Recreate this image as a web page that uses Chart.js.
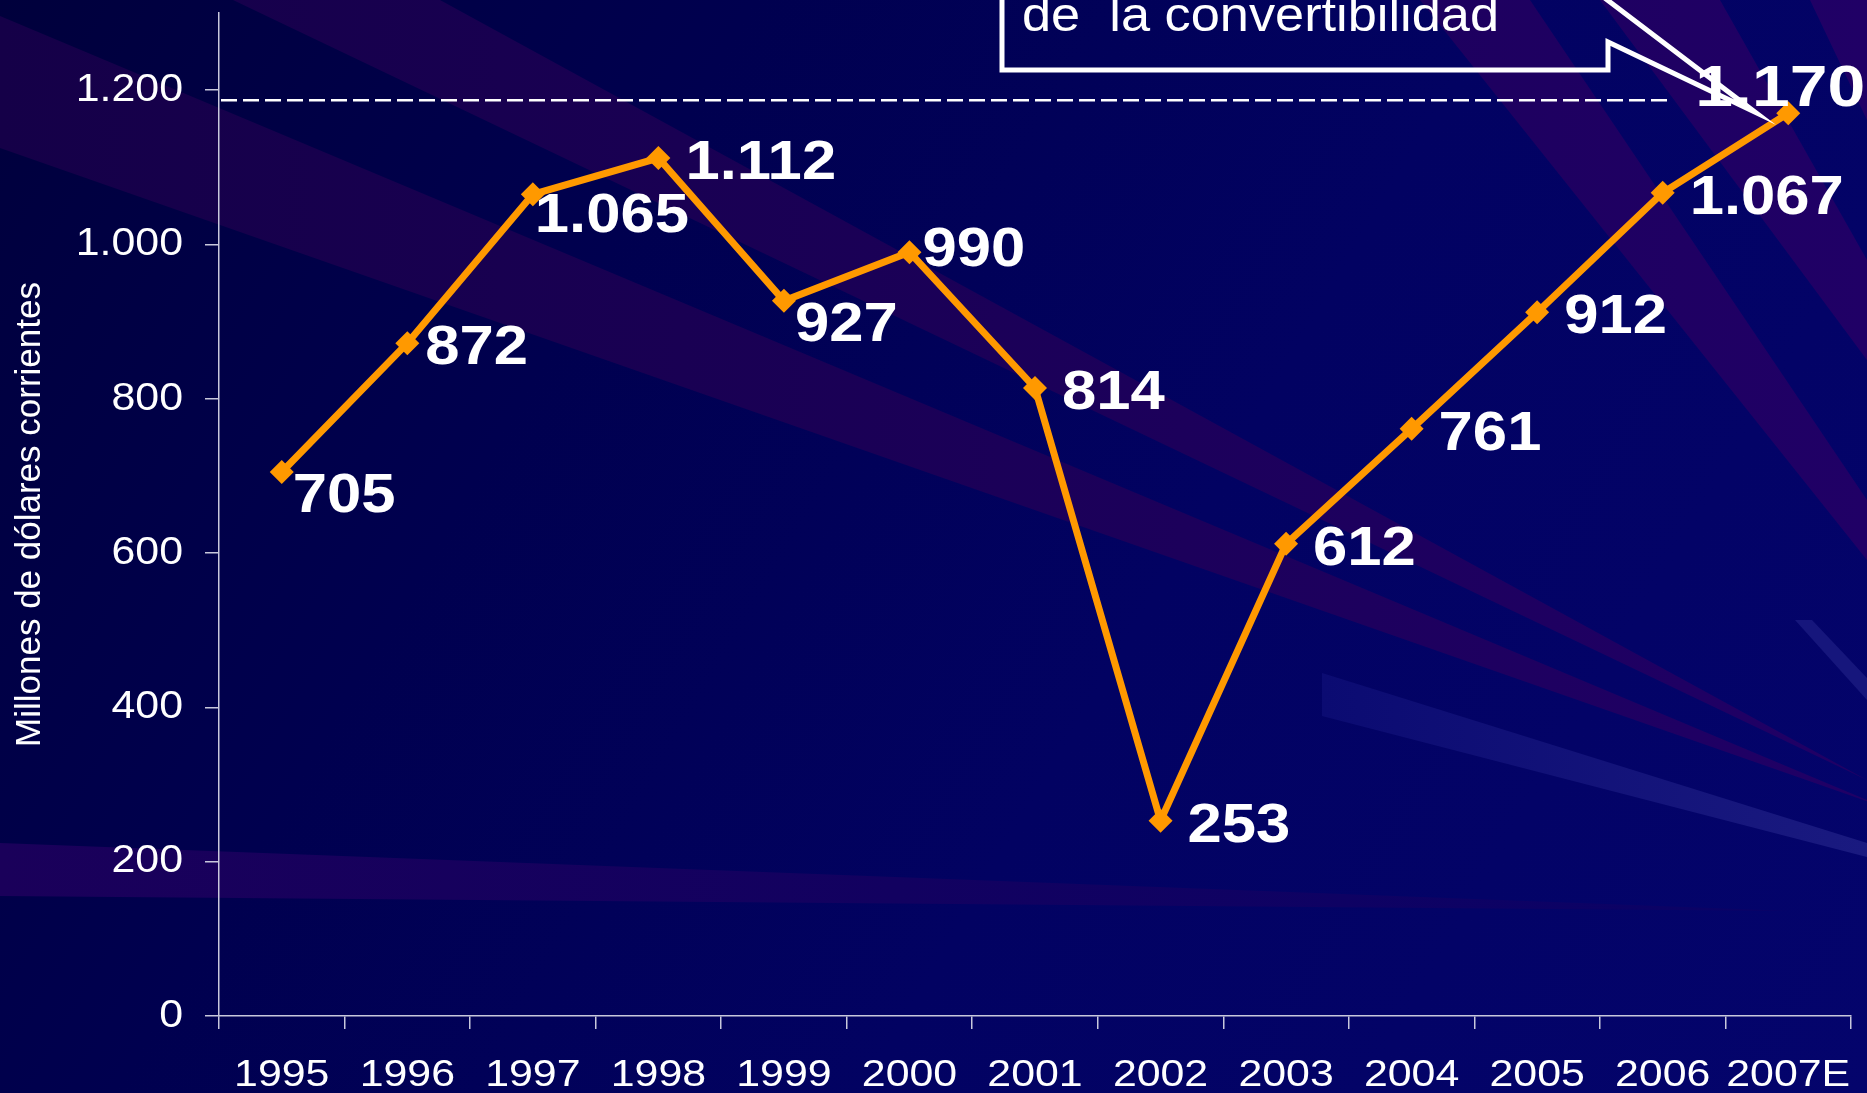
<!DOCTYPE html>
<html><head><meta charset="utf-8">
<script src="https://cdn.jsdelivr.net/npm/chart.js@4.4.1/dist/chart.umd.min.js"></script>
<style>html,body{margin:0;padding:0;background:#01015c;overflow:hidden}#wrap{width:1867px;height:1093px}</style>
</head><body><div id="wrap"><canvas id="c" width="1867" height="1093"></canvas></div>
<script>
// ---- data ----
const categories = ['1995','1996','1997','1998','1999','2000','2001','2002','2003','2004','2005','2006','2007E'];
const values = [705, 872, 1065, 1112, 927, 990, 814, 253, 612, 761, 912, 1067, 1170];
const valueLabels = ['705','872','1.065','1.112','927','990','814','253','612','761','912','1.067','1.170'];
const yTickLabels = ['0','200','400','600','800','1.000','1.200'];
const convertibilityMax = 1187;
const calloutText = 'de  la convertibilidad';
const yTitle = 'Millones de dólares corrientes';
// label placement keywords (styling, not data)
const labelPlacement = ['belowRight','rightNear','belowNear','right','belowRight','upRight','right','right','right','right','right','right','above'];

const FONT = "'Liberation Sans', Arial, sans-serif";

function poly(ctx, pts, fill) {
  ctx.beginPath();
  ctx.moveTo(pts[0][0], pts[0][1]);
  for (let i = 1; i < pts.length; i++) ctx.lineTo(pts[i][0], pts[i][1]);
  ctx.closePath();
  ctx.fillStyle = fill;
  ctx.fill();
}

const bgPlugin = {
  id: 'bg',
  beforeDraw(chart) {
    const ctx = chart.ctx, W = chart.width, H = chart.height;
    ctx.save();
    const g = ctx.createLinearGradient(0, 0, W, H);
    g.addColorStop(0, '#00003c');
    g.addColorStop(0.3, '#00004f');
    g.addColorStop(0.6, '#020262');
    g.addColorStop(1, '#04046c');
    ctx.fillStyle = g;
    ctx.fillRect(0, 0, W, H);
    const pg = ctx.createLinearGradient(0, 0, W, 0);
    pg.addColorStop(0, '#150048');
    pg.addColorStop(1, '#200066');
    poly(ctx, [[0,16],[0,148],[1886,808]], pg);
    poly(ctx, [[233,0],[440,0],[1867,780]], pg);
    poly(ctx, [[1420,0],[1530,0],[1867,500],[1867,560]], pg);
    poly(ctx, [[1600,0],[1720,0],[1867,260],[1867,360]], pg);
    poly(ctx, [[1810,0],[1867,0],[1867,120]], pg);
    const bg2 = ctx.createLinearGradient(0, 0, 1790, 0);
    bg2.addColorStop(0, '#1a005a');
    bg2.addColorStop(1, '#0a0266');
    poly(ctx, [[0,843],[0,896],[1790,911]], bg2);
    const lb = ctx.createLinearGradient(1322, 0, W, 0);
    lb.addColorStop(0, '#0b0b72');
    lb.addColorStop(1, '#1a1a80');
    poly(ctx, [[1322,673],[1322,716],[1867,857],[1867,843]], lb);
    poly(ctx, [[1795,620],[1812,620],[1867,678],[1867,700]], '#16167c');
    ctx.restore();
  },
  beforeDatasetsDraw(chart) {
    const ctx = chart.ctx, y = chart.scales.y, x = chart.scales.x;
    const py = y.getPixelForValue(convertibilityMax);
    ctx.save();
    ctx.strokeStyle = '#ffffff';
    ctx.lineWidth = 2.5;
    ctx.setLineDash([16, 6]);
    ctx.beginPath();
    ctx.moveTo(chart.chartArea.left + 2, py);
    ctx.lineTo(x.getPixelForValue(11) + 5, py);
    ctx.stroke();
    ctx.restore();
  },
  afterDatasetsDraw(chart) {
    // tick labels (z=1) are drawn after this hook: stretch them horizontally like the original
    const ctx = chart.ctx;
    const orig = CanvasRenderingContext2D.prototype.fillText;
    ctx.fillText = function (t, x, y, mw) {
      const sx = this.textAlign === 'right' ? 1.10 : 1.19;
      this.save();
      this.translate(x, y);
      this.scale(sx, 1);
      orig.call(this, t, 0, 0);
      this.restore();
    };
  },
  afterDraw(chart) {
    const ctx = chart.ctx;
    delete ctx.fillText;
    const meta = chart.getDatasetMeta(0);
    ctx.save();
    ctx.fillStyle = '#ffffff';
    ctx.textAlign = 'left';
    ctx.textBaseline = 'alphabetic';
    meta.data.forEach((pt, i) => {
      const place = labelPlacement[i];
      const size = place === 'above' ? 58 : 56;
      const sx = place === 'above' ? 1.17 : 1.1;
      ctx.font = 'bold ' + size + 'px ' + FONT;
      const w = ctx.measureText(valueLabels[i]).width * sx;
      let lx, cy;
      if (place === 'right') { lx = pt.x + 27; cy = pt.y + 1; }
      else if (place === 'rightNear') { lx = pt.x + 18; cy = pt.y + 1; }
      else if (place === 'belowRight') { lx = pt.x + 11; cy = pt.y + 20; }
      else if (place === 'belowNear') { lx = pt.x + 2; cy = pt.y + 18; }
      else if (place === 'upRight') { lx = pt.x + 13; cy = pt.y - 6; }
      else { lx = pt.x - 8 - w / 2; cy = pt.y - 28; }
      ctx.save();
      ctx.translate(lx, cy + size * 0.358);
      ctx.scale(sx, 1);
      ctx.fillText(valueLabels[i], 0, 0);
      ctx.restore();
    });
    // callout box
    const last = meta.data[meta.data.length - 1];
    const tip = { x: last.x - 33, y: last.y - 1 };
    ctx.strokeStyle = '#ffffff';
    ctx.lineWidth = 5;
    ctx.lineJoin = 'miter';
    ctx.beginPath();
    ctx.moveTo(1002, -20);
    ctx.lineTo(1002, 70);
    ctx.lineTo(1608, 70);
    ctx.lineTo(1608, 42);
    ctx.lineTo(tip.x, tip.y);
    ctx.lineTo(1581, -20);
    ctx.stroke();
    ctx.font = '48px ' + FONT;
    ctx.save();
    ctx.translate(1022, 31);
    ctx.scale(1.09, 1);
    ctx.fillText(calloutText, 0, 0);
    ctx.restore();
    ctx.restore();
  }
};

const axisColor = '#c8c8dc';

new Chart(document.getElementById('c'), {
  type: 'line',
  data: {
    labels: categories,
    datasets: [{
      data: values,
      borderColor: '#ff9900',
      borderWidth: 7,
      pointStyle: 'rectRot',
      pointRadius: 12,
      pointBackgroundColor: '#ff9900',
      pointBorderWidth: 0,
      tension: 0,
      clip: false
    }]
  },
  options: {
    responsive: false,
    animation: false,
    devicePixelRatio: 1,
    layout: { padding: { top: 13, right: 16, left: 0, bottom: 0 } },
    plugins: { legend: { display: false }, tooltip: { enabled: false } },
    scales: {
      x: {
        offset: true,
        grid: { display: true, drawOnChartArea: false, drawTicks: true, tickLength: 13, color: axisColor, lineWidth: 1.5, offset: true },
        border: { display: true, color: axisColor, width: 1.5 },
        ticks: { color: '#ffffff', font: { family: FONT, size: 36 }, padding: 25, autoSkip: false, maxRotation: 0, z: 1 },
        afterFit(s) { s.height = 77; s.paddingLeft = 0; s.paddingRight = 0; }
      },
      y: {
        min: 0, max: 1300,
        grid: { display: true, drawOnChartArea: false, drawTicks: true, tickLength: 14, color: axisColor, lineWidth: 1.5 },
        border: { display: true, color: axisColor, width: 1.5 },
        ticks: {
          stepSize: 200, includeBounds: false, color: '#ffffff',
          font: { family: FONT, size: 39 }, padding: 22, z: 1,
          callback: (v, i) => yTickLabels[i]
        },
        title: { display: true, text: yTitle, color: '#ffffff', font: { family: FONT, size: 35 }, padding: { top: 9, bottom: 0 } },
        afterFit(s) { s.width = 219; s.paddingTop = 0; s.paddingBottom = 0; }
      }
    }
  },
  plugins: [bgPlugin]
});
</script>
</body></html>
